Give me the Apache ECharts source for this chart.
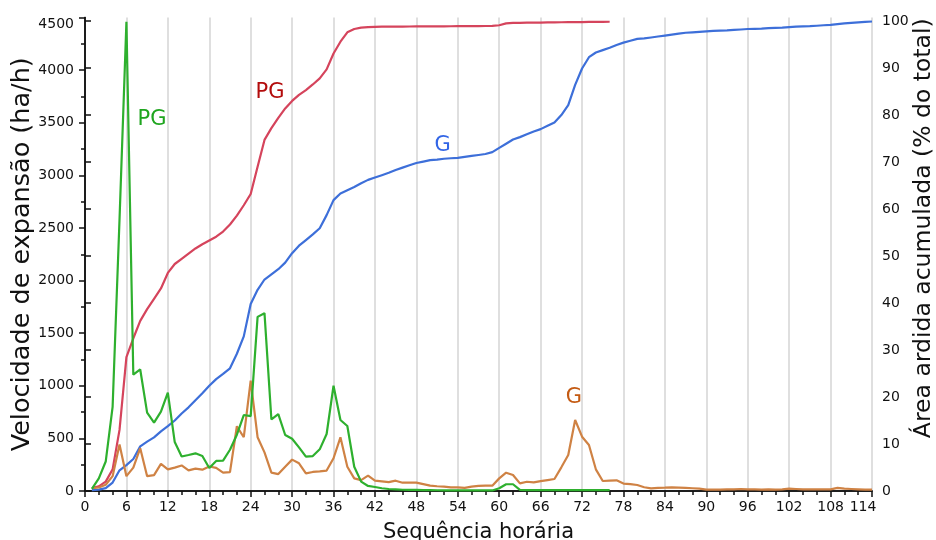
<!DOCTYPE html>
<html>
<head>
<meta charset="utf-8">
<script src="https://cdn.jsdelivr.net/npm/echarts@6/dist/echarts.min.js"></script>
<style>
html,body{margin:0;padding:0;background:#fff;}
#c{width:936px;height:540px;}
</style>
</head>
<body>
<div id="c"></div>
<script>
// Hourly sequence values (hour index = position + 1)
var pgVelocity = [20,120,280,800,2580,4460,1105,1155,745,650,755,935,465,328,342,358,332,218,286,288,
  392,535,722,712,1655,1690,680,730,532,496,415,326,332,396,542,1000,675,618,231,89,
  48,38,26,19,16,12,10,10,9,8,7,6,6,5,5,5,5,5,5,26,
  64,64,10,8,8,8,8,8,8,8,8,8,8,8,8,8];
var gVelocity = [26,33,59,141,441,141,222,407,141,151,258,206,222,243,196,213,203,233,220,174,
  180,615,511,1050,511,367,174,161,231,298,263,168,181,187,194,311,510,231,120,104,
  146,98,92,85,98,79,79,79,66,51,45,42,35,35,29,42,48,51,51,120,
  174,152,72,88,82,94,104,114,225,342,675,516,437,206,95,98,101,71,66,57,
  36,25,30,32,35,32,29,26,22,13,13,13,16,16,19,16,16,13,16,13,
  16,22,19,16,16,16,16,16,29,22,19,16,13,13];
var pgCumulative = [0.6,1.0,2.0,4.6,13,28.5,32.5,36.2,38.7,40.9,43.1,46.4,48.3,49.4,50.5,51.6,52.5,53.3,54.1,55.2,
  56.7,58.6,60.8,63.2,69.0,74.7,77.2,79.4,81.4,83.0,84.3,85.3,86.5,87.8,89.7,93.1,95.6,97.6,98.3,98.6,
  98.7,98.75,98.8,98.8,98.8,98.82,98.84,98.85,98.86,98.87,98.88,98.88,98.89,98.9,98.9,98.9,98.92,98.94,98.96,99.1,
  99.5,99.6,99.62,99.64,99.66,99.68,99.7,99.72,99.74,99.75,99.76,99.78,99.8,99.82,99.84,99.85];
var gCumulative = [0.2,0.3,0.6,1.8,4.4,5.5,6.8,9.5,10.5,11.4,12.7,13.8,15.0,16.5,17.8,19.3,20.8,22.4,23.8,24.9,
  26.1,29.2,32.9,39.8,42.8,45.0,46.1,47.2,48.6,50.6,52.2,53.4,54.6,55.9,58.7,61.9,63.3,64.0,64.7,65.5,
  66.2,66.7,67.2,67.7,68.3,68.8,69.3,69.8,70.1,70.4,70.5,70.7,70.8,70.9,71.1,71.3,71.5,71.7,72.1,73.0,
  73.9,74.8,75.3,75.9,76.5,77.0,77.7,78.4,80.0,82.1,86.4,89.9,92.3,93.3,93.8,94.3,94.9,95.4,95.8,96.2,
  96.3,96.5,96.7,96.9,97.1,97.3,97.5,97.6,97.7,97.8,97.9,97.95,98.0,98.1,98.2,98.3,98.35,98.4,98.5,98.55,
  98.6,98.7,98.8,98.85,98.9,99.0,99.1,99.2,99.35,99.5,99.6,99.7,99.8,99.9];

// Right axis tick labels
var rightTicks = [0,10,20,30,40,50,60,70,80,90,100];
var lastHour = 114;

// Annotation labels: [text, hour, value]
var labelPGvel = ['PG', 9.7, 3530];
var labelGvel = ['G', 70.8, 885];
var labelPGcum = ['PG', 26.8, 84.7];
var labelGcum = ['G', 51.8, 73.6];

function pairs(arr){ return arr.map(function(v,i){ return [i+1, v]; }); }
function mark(lbl, color){
  return {
    symbol:'circle', symbolSize:1, silent:true,
    itemStyle:{color:'rgba(0,0,0,0)'},
    label:{show:true, position:'inside', formatter:lbl[0], color:color,
      fontFamily:'DejaVu Sans', fontSize:21},
    data:[{coord:[lbl[1], lbl[2]]}]
  };
}

var FONT = 'DejaVu Sans';
var chart = echarts.init(document.getElementById('c'), null, {renderer:'canvas'});
chart.setOption({
  animation:false,
  backgroundColor:'#fff',
  grid:{left:85, right:64, top:17.5, bottom:49, containLabel:false, outerBoundsMode:'none'},
  xAxis:[{
    type:'value', min:0, max:lastHour, interval:6, position:'bottom',
    name:'Sequência horária', nameLocation:'middle', nameGap:31, nameMoveOverlap:false,
    nameTextStyle:{fontFamily:FONT, fontSize:21, color:'#111'},
    axisLine:{show:true, lineStyle:{color:'#111', width:1.5}},
    axisTick:{show:true, inside:false, length:6, lineStyle:{color:'#111', width:1.5}},
    minorTick:{show:true, splitNumber:3, length:4, lineStyle:{color:'#111', width:1.5}},
    splitLine:{show:true, lineStyle:{color:'#d4d4d4', width:1.5}},
    axisLabel:{fontFamily:FONT, fontSize:14, color:'#111', margin:9,
      formatter:function(v){ return v === lastHour ? '{m|' + v + '}' : String(v); },
      rich:{m:{fontFamily:FONT, fontSize:14, color:'#111', padding:[0,18,0,0]}}}
  },{
    type:'value', min:0, max:lastHour, position:'top',
    axisLine:{show:true, lineStyle:{color:'#111', width:1.5}},
    axisTick:{show:false}, axisLabel:{show:false}, splitLine:{show:false}
  }],
  yAxis:[{
    type:'value', min:0, max:4500, interval:500, position:'left',
    name:'Velocidade de expansão (ha/h)', nameLocation:'middle', nameGap:50, nameMoveOverlap:false,
    nameTextStyle:{fontFamily:FONT, fontSize:25.5, color:'#111'},
    axisLine:{show:true, lineStyle:{color:'#111', width:1.5}},
    axisTick:{show:true, inside:false, length:6, lineStyle:{color:'#111', width:1.5}},
    minorTick:{show:true, splitNumber:2, length:4, lineStyle:{color:'#111', width:1.5}},
    splitLine:{show:false},
    axisLabel:{fontFamily:FONT, fontSize:14, color:'#111', margin:11,
      verticalAlignMaxLabel:'top', formatter:function(v){ return String(v); }}
  },{
    type:'value', min:0, max:100.75, position:'right',
    name:'Área ardida acumulada (% do total)', nameLocation:'middle', nameGap:40, nameRotate:90,
    nameMoveOverlap:false,
    nameTextStyle:{fontFamily:FONT, fontSize:23.5, color:'#111', padding:[0,0,0,52]},
    axisLine:{show:true, lineStyle:{color:'#111', width:1.5}},
    axisTick:{show:true, inside:false, length:6, customValues:rightTicks, lineStyle:{color:'#111', width:1.5}},
    splitLine:{show:false},
    axisLabel:{fontFamily:FONT, fontSize:14, color:'#111', margin:10, customValues:rightTicks}
  }],
  series:[
    {type:'line', name:'G acumulado', yAxisIndex:1, data:pairs(gCumulative), showSymbol:false,
      lineStyle:{color:'#3d6fd9', width:2.2}, itemStyle:{color:'#3d6fd9'}, z:3,
      markPoint:mark(labelGcum, '#3366e6')},
    {type:'line', name:'PG acumulado', yAxisIndex:1, data:pairs(pgCumulative), showSymbol:false,
      lineStyle:{color:'#d5445c', width:2.2}, itemStyle:{color:'#d5445c'}, z:3,
      markPoint:mark(labelPGcum, '#b30c0c')},
    {type:'line', name:'G velocidade', yAxisIndex:0, data:pairs(gVelocity), showSymbol:false,
      lineStyle:{color:'#cf8244', width:2.2}, itemStyle:{color:'#cf8244'}, z:4,
      markPoint:mark(labelGvel, '#c45a12')},
    {type:'line', name:'PG velocidade', yAxisIndex:0, data:pairs(pgVelocity), showSymbol:false,
      lineStyle:{color:'#2eb02e', width:2.2}, itemStyle:{color:'#2eb02e'}, z:4,
      markPoint:mark(labelPGvel, '#1fa51f')}
  ]
});
</script>
</body>
</html>
